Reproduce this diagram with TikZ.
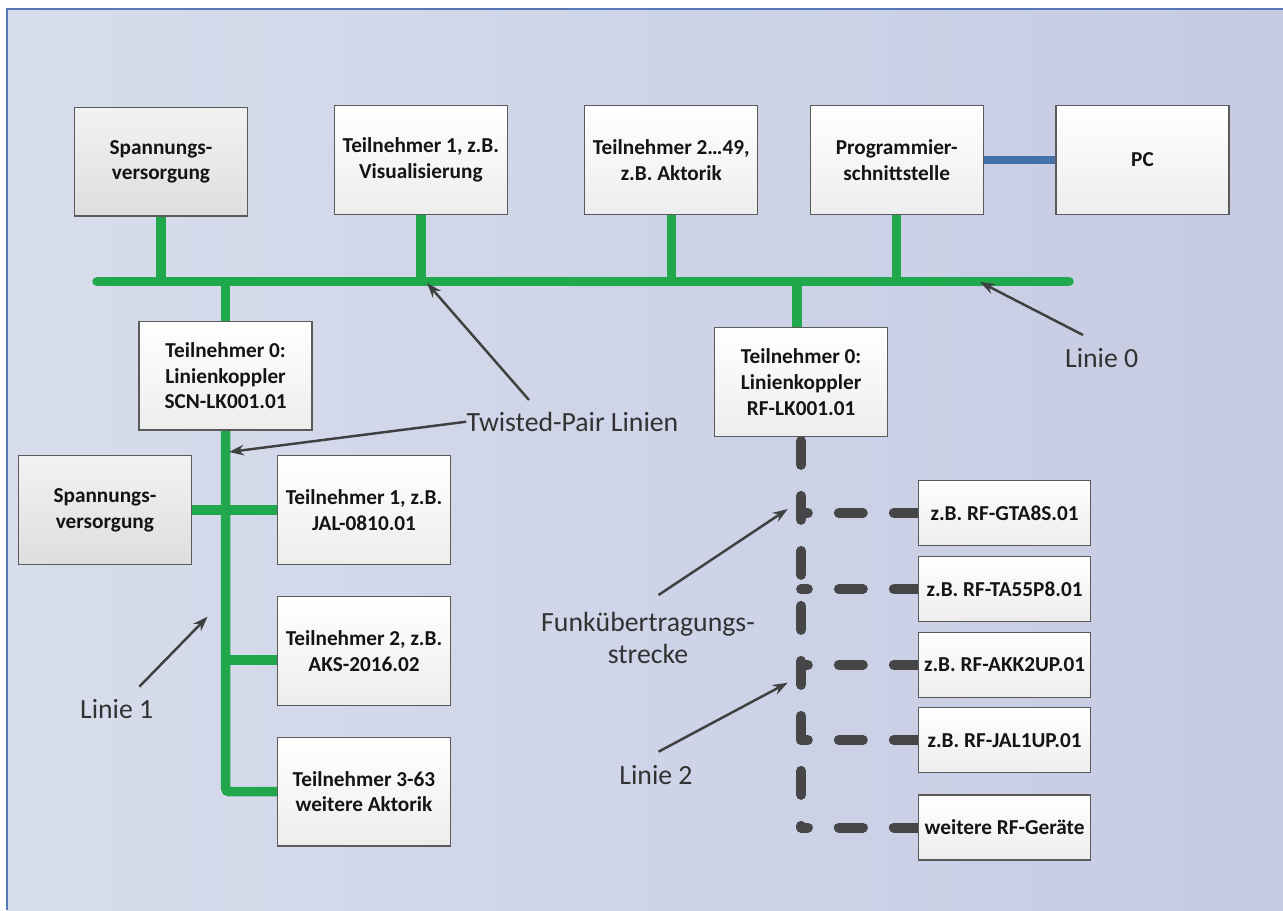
\documentclass[tikz,border=0pt]{standalone}
\usepackage{fontspec}
\setmainfont{Carlito}
\usetikzlibrary{arrows.meta,calc}
\definecolor{bgL}{RGB}{215,221,236}
\definecolor{bgR}{RGB}{198,203,227}
\definecolor{frameblue}{RGB}{84,120,184}
\definecolor{tpgreen}{RGB}{34,168,76}
\definecolor{usbblue}{RGB}{68,114,168}
\definecolor{rfgrey}{RGB}{70,70,72}
\definecolor{arrgrey}{RGB}{64,64,64}
\definecolor{boxborder}{RGB}{90,90,90}
\definecolor{boxgrey}{RGB}{237,237,237}
\definecolor{psutop}{RGB}{242,242,242}
\definecolor{psubot}{RGB}{222,222,222}
\definecolor{lbltext}{RGB}{50,50,50}
\definecolor{boxtext}{RGB}{20,20,20}
\newcommand{\bxfont}{\fontsize{12.1}{14.6}\selectfont\bfseries}
\newcommand{\lbfont}{\fontsize{15.8}{18.4}\selectfont}
\pgfdeclarelayer{bg}
\pgfdeclarelayer{wires}
\pgfsetlayers{bg,wires,main}
\begin{document}
\begin{tikzpicture}[x=0.02cm,y=-0.02cm,
  box/.style={draw=boxborder,line width=0.75pt,minimum width=3.46cm,minimum height=2.17cm,
    inner sep=0pt,align=center,font=\bxfont,text=boxtext,top color=white,bottom color=boxgrey},
  psu/.style={box,top color=psutop,bottom color=psubot},
  rfbox/.style={box,minimum width=3.446cm,minimum height=1.3cm},
  lbl/.style={font=\lbfont,text=lbltext,align=center,inner sep=0pt},
  tpw/.style={draw=tpgreen,line width=5.4pt},
  usb/.style={draw=usbblue,line width=5.1pt},
  rfd/.style={draw=rfgrey,line width=5.69pt,line cap=round,dash pattern=on 13.66pt off 17.64pt},
  arr/.style={draw=arrgrey,line width=1.4pt,-{Stealth[length=8.5pt,width=6pt]}}]
\useasboundingbox (0,0) rectangle (1283,910);
\begin{pgfonlayer}{bg}
  \shade[left color=bgL,right color=bgR] (7,9) rectangle (1283,910);
  \draw[frameblue,line width=1.2pt] (7,910) -- (7,9) -- (1283,9);
\end{pgfonlayer}
% boxes
\node[psu] (sv1) at (161,161.7) {Spannungs-\\versorgung};
\node[box] (t1) at (420.8,160) {Teilnehmer 1, z.B.\\Visualisierung};
\node[box] (t2) at (671.3,160) {Teilnehmer 2…49,\\z.B. Aktorik};
\node[box] (prog) at (896.7,160) {Programmier-\\schnittstelle};
\node[box] (pc) at (1142.5,160) {PC};
\node[box] (lk1) at (225.6,375.8) {Teilnehmer 0:\\Linienkoppler\\SCN-LK001.01};
\node[psu] (sv2) at (104.9,510) {Spannungs-\\versorgung};
\node[box] (j1) at (364,510) {Teilnehmer 1, z.B.\\JAL-0810.01};
\node[box] (aks) at (364,651) {Teilnehmer 2, z.B.\\AKS-2016.02};
\node[box] (t363) at (364,791.7) {Teilnehmer 3-63\\weitere Aktorik};
\node[box] (lk2) at (801.1,382) {Teilnehmer 0:\\Linienkoppler\\RF-LK001.01};
\node[rfbox] (rf1) at (1004.6,513) {z.B. RF-GTA8S.01};
\node[rfbox] (rf2) at (1004.6,589.2) {z.B. RF-TA55P8.01};
\node[rfbox] (rf3) at (1004.6,664.8) {z.B. RF-AKK2UP.01};
\node[rfbox] (rf4) at (1004.6,740.2) {z.B. RF-JAL1UP.01};
\node[rfbox] (rf5) at (1004.6,827.5) {weitere RF-Geräte};
% coordinates
\coordinate (busL) at (97,281.7);
\coordinate (busR) at (1069,281.7);
\coordinate (lk2t) at ($(lk2.north)+(-4,0)$);
\coordinate (aksb) at ($(aks.west)+(0,9)$);
\coordinate (rtop) at ($(lk2.south)+(0,4)$);
\coordinate (rbot) at (rtop |- rf5.west);
\begin{pgfonlayer}{wires}
  \draw[tpw,line cap=round] (busL) -- (busR);
  \foreach \n in {sv1,t1,t2,prog} \draw[tpw] (\n.south) -- (\n.south |- busL);
  \draw[tpw] (lk1.north) -- (lk1.north |- busL);
  \draw[tpw] (lk2t) -- (lk2t |- busL);
  \draw[tpw,rounded corners=2pt] (lk1.south) |- (t363.west);
  \draw[tpw] (sv2.east) -- (j1.west);
  \draw[tpw] (aksb) -- (aksb -| lk1.south);
  \draw[usb] (prog.east) -- (pc.west);
  \draw[rfd] (rtop) -- (rbot);
  \foreach \n in {rf1,rf2,rf3,rf4,rf5} \draw[rfd] (\n.west) -- (\n.west -| rtop);
\end{pgfonlayer}
% labels and arrows
\node[lbl] (tpl) at (572.5,421.7) {Twisted-Pair Linien};
\coordinate (tps) at (529,400);
\coordinate (tpa) at (427,283);
\coordinate (tpb) at (229,452);
\draw[arr] (tps) -- (tpa);
\draw[arr] (tpl.west) -- (tpb);
\node[lbl] (l0) at (1101.7,358) {Linie 0};
\coordinate (l0s) at (1083,335);
\coordinate (l0a) at (980,282);
\draw[arr] (l0s) -- (l0a);
\node[lbl] (l1) at (116.7,709) {Linie 1};
\coordinate (l1s) at (139.3,686.7);
\coordinate (l1a) at (207.6,616.7);
\draw[arr] (l1s) -- (l1a);
\node[lbl] (fk) at (648,638) {Funkübertragungs-\\strecke};
\coordinate (fks) at (658.5,595);
\coordinate (fka) at (787.7,509);
\draw[arr] (fks) -- (fka);
\node[lbl] (l2) at (656,775) {Linie 2};
\coordinate (l2s) at (658.5,751.7);
\coordinate (l2a) at (787.7,682.7);
\draw[arr] (l2s) -- (l2a);
\end{tikzpicture}
\end{document}
